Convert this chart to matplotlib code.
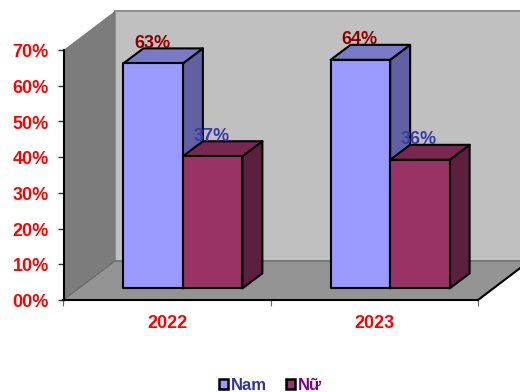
import matplotlib
matplotlib.use("Agg")
import matplotlib.pyplot as plt
from matplotlib.patches import Patch, Polygon
from matplotlib.transforms import ScaledTranslation

YEARS = ["2022", "2023"]
NAM = [63, 64]
NU = [37, 36]
Y_TICKS = [0, 10, 20, 30, 40, 50, 60, 70]
Y_LABELS = ["00%", "10%", "20%", "30%", "40%", "50%", "60%", "70%"]

W, H = 520, 392

# Colors for each series: front, top, side, label
NAM_COLORS = ("#9999ff", "#7a7ac6", "#6060a2")
NU_COLORS = ("#993366", "#782850", "#5c1f3d")
NAM_LABEL = "#8b0000"
NU_LABEL = "#3a3aa8"

plt.rcParams["font.family"] = ["Liberation Sans", "DejaVu Sans"]
plt.rcParams["font.weight"] = "bold"

fig = plt.figure(figsize=(W / 100, H / 100), dpi=100)
ax = fig.add_axes([63.5 / W, 1 - 300 / H, 414.5 / W, 250 / H])
ax.set_xlim(-0.5, 1.5)
ax.set_ylim(0, 70)
ax.patch.set_visible(False)

# Pixel sizes of the fake depth, turned into data units
px_x = 2 / 414.5
px_y = 70 / 250
floor_dx, floor_dy = 51.5 * px_x, 39 * px_y
gap_dx, gap_dy = 15.75 * px_x, 11.6 * px_y
bar_dx, bar_dy = 20 * px_x, 15 * px_y
bar_w = 59.5 / 207.25


def add_poly(points, color, edge="none", lw=0.0, z=1):
    ax.add_patch(Polygon(points, closed=True, facecolor=color, edgecolor=edge,
                         linewidth=lw, zorder=z, clip_on=False, joinstyle="round"))


# Walls and floor
add_poly([(-0.5 + floor_dx, floor_dy), (-0.5 + floor_dx, 70 + floor_dy),
          (1.5 + floor_dx, 70 + floor_dy), (1.5 + floor_dx, floor_dy)], "#c0c0c0", "#8c8c8c", 1.4)
add_poly([(-0.5, 0), (-0.5, 70), (-0.5 + floor_dx, 70 + floor_dy), (-0.5 + floor_dx, floor_dy)],
         "#7c7c7c", z=1.5)
add_poly([(-0.5, 0), (1.5, 0), (1.5 + floor_dx, floor_dy), (-0.5 + floor_dx, floor_dy)],
         "#949494", "#666666", 0.8, z=1.5)


def draw_bar(x0, value, colors, z):
    x1 = x0 + bar_w
    y0 = gap_dy
    y1 = y0 + value
    x0s, x1s = x0 + gap_dx, x1 + gap_dx
    front, top, side = colors
    add_poly([(x1s, y1), (x1s + bar_dx, y1 + bar_dy), (x1s + bar_dx, y0 + bar_dy), (x1s, y0)],
             side, "black", 1.5, z)
    add_poly([(x0s, y1), (x0s + bar_dx, y1 + bar_dy), (x1s + bar_dx, y1 + bar_dy), (x1s, y1)],
             top, "black", 1.5, z)
    add_poly([(x0s, y0), (x0s, y1), (x1s, y1), (x1s, y0)], front, "black", 1.5, z)


for i, year in enumerate(YEARS):
    draw_bar(i - bar_w, NAM[i], NAM_COLORS, 3)
    draw_bar(i, NU[i], NU_COLORS, 3)
    # Value labels sit above the top face of each bar
    ax.text(i - bar_w / 2 + gap_dx - px_x, gap_dy + NAM[i] + 20 * px_y, f"{NAM[i]}%", color=NAM_LABEL,
            fontsize=13, ha="center", va="center", zorder=5)
    ax.text(i + bar_w / 2 + gap_dx - px_x, gap_dy + NU[i] + 20 * px_y, f"{NU[i]}%", color=NU_LABEL,
            fontsize=13, ha="center", va="center", zorder=5)

# Axes
for name in ("top", "right"):
    ax.spines[name].set_visible(False)
for name in ("left", "bottom"):
    ax.spines[name].set_linewidth(1.5)
    ax.spines[name].set_zorder(4)
ax.set_yticks(Y_TICKS)
ax.set_yticklabels(Y_LABELS, color="#ff0000", fontsize=13)
ax.tick_params(axis="y", length=4, width=1, color="#333333", pad=6.5)
ax.set_xticks([-0.5, 0.5, 1.5])
ax.set_xticklabels([])
ax.set_xticks([0, 1], labels=YEARS, minor=True, color="#ff0000", fontsize=13)
ax.tick_params(axis="x", which="major", length=4, width=0.8, color="#666666")
ax.tick_params(axis="x", which="minor", length=0, pad=10.5)

# Nudge the percent labels down a little
nudge = ScaledTranslation(0, -0.7 / 100, fig.dpi_scale_trans)
for label in ax.get_yticklabels():
    label.set_transform(label.get_transform() + nudge)

# Floor edge running off to the right
ax.plot([1.5, 1.5 + floor_dx], [0, floor_dy], color="black", lw=1.5, clip_on=False, zorder=4)

handles = [Patch(facecolor=NAM_COLORS[0], edgecolor="black", linewidth=1.8),
           Patch(facecolor=NU_COLORS[0], edgecolor="black", linewidth=1.8)]
fig.legend(handles, ["Nam", "Nữ"], loc="center", bbox_to_anchor=(270.5 / W, 1 - 385 / H), ncol=2,
           frameon=False, fontsize=12, labelcolor=["#333399", "#800080"],
           handlelength=0.55, handleheight=0.55, handletextpad=0.2, columnspacing=1.1,
           borderpad=0, borderaxespad=0)

fig.savefig("out.png", dpi=100)
plt.close(fig)
